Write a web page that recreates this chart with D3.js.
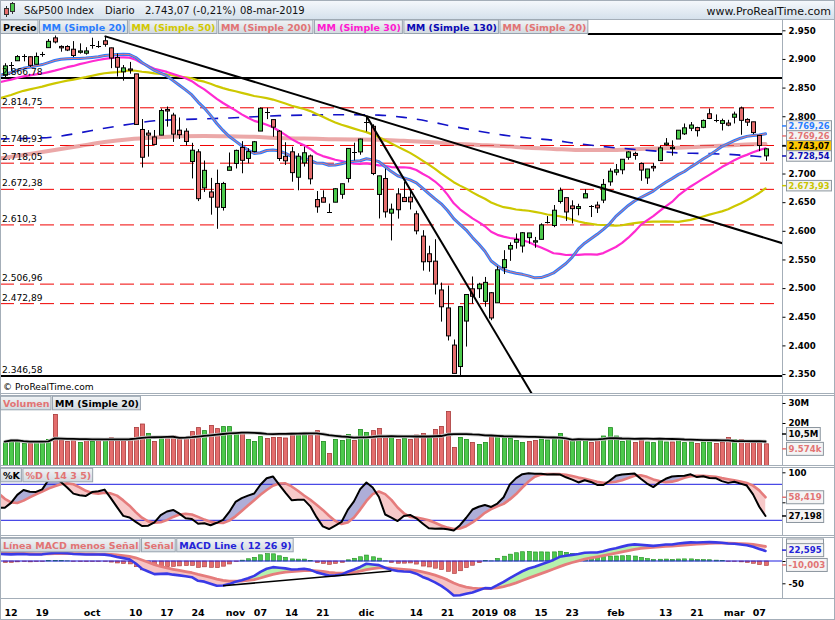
<!DOCTYPE html>
<html><head><meta charset="utf-8"><title>S&amp;P500 Index</title>
<script src="https://cdn.jsdelivr.net/npm/d3@7/dist/d3.min.js"></script>
<style>html,body{margin:0;padding:0;background:#fff;}svg{display:block;}</style>
</head><body>
<svg id="chart" width="835" height="620"></svg>
<script>
// ---------------- DATA ----------------
// closes before the visible window (Jun 1 - Sep 10, 2018), used by the moving averages / MACD
const priorClose = [2734.62,2746.87,2748.80,2772.35,2770.37,2779.03,2782.00,2786.85,2775.63,2782.49,2779.66,2773.75,2762.59,2767.32,2749.76,2754.88,2717.07,2723.06,2699.63,2716.31,2718.37,
2726.71,2713.22,2736.61,2759.82,2784.17,2793.84,2774.02,2798.29,2801.31,2798.43,2809.55,2815.62,2804.49,2801.83,2806.98,2820.40,2846.07,2837.44,2818.82,2802.60,2816.29,
2813.36,2827.22,2840.35,2850.40,2858.45,2857.70,2853.58,2833.28,2821.93,2839.96,2818.37,2840.69,2850.13,2857.05,2862.96,2861.82,2856.98,2874.69,2896.74,2897.52,2914.04,2901.13,2901.52,
2896.72,2888.60,2878.05,2871.68,2877.13];
// highs / lows of the last 20 prior sessions (Aug 13 - Sep 10, 2018), for the stochastic
const priorHigh = [2843.40,2843.11,2827.95,2850.49,2855.63,2859.76,2873.23,2867.54,2868.78,2876.16,2898.25,2903.77,2916.50,2912.46,2906.32,2900.18,2894.21,2892.05,2883.81,2886.93];
const priorLow  = [2819.88,2826.58,2802.49,2831.44,2833.73,2850.62,2861.32,2856.05,2854.03,2862.35,2884.69,2893.50,2898.40,2895.22,2891.73,2885.13,2876.92,2867.29,2864.12,2875.94];

// visible sessions: Sep 11, 2018 -> Mar 8, 2019
const open = [2871.57,2888.29,2896.85,2906.38,2903.83,2890.74,2906.60,2919.73,2936.76,2921.83,
2921.75,2916.98,2911.65,2910.03,2926.29,2923.80,2931.69,2919.35,2902.54,2877.53,
2882.51,2873.90,2776.87,2770.54,2763.83,2767.05,2811.67,2802.00,2775.66,2773.94,
2721.03,2737.87,2674.88,2667.86,2682.65,2640.68,2705.60,2717.58,2745.45,2726.37,
2738.40,2774.13,2806.38,2794.10,2773.93,2730.05,2737.90,2693.52,2718.54,2730.74,
2654.60,2657.74,2633.36,2649.97,2663.75,2691.45,2736.97,2737.76,2790.50,2782.43,
2663.51,2691.26,2630.86,2664.44,2658.23,2658.70,2629.68,2590.75,2559.90,2547.05,
2496.77,2465.38,2400.56,2363.12,2442.50,2498.77,2498.94,2476.96,2491.92,2474.33,
2535.61,2568.11,2580.00,2573.51,2588.11,2580.31,2585.10,2614.75,2609.28,2651.27,
2657.88,2643.48,2638.84,2657.44,2644.97,2644.89,2653.62,2685.49,2702.32,2706.49,
2728.34,2735.05,2717.53,2692.36,2712.40,2722.61,2750.30,2743.50,2760.24,2769.28,
2779.05,2780.24,2780.67,2804.35,2792.36,2787.50,2788.11,2798.22,2814.37,2794.41,
2790.27,2766.53,2730.79];
const high = [2892.52,2894.65,2906.76,2908.30,2904.65,2911.17,2912.36,2934.80,2940.91,2923.79,
2923.95,2931.15,2927.22,2920.53,2937.06,2931.42,2939.86,2919.78,2909.64,2889.45,
2894.83,2874.02,2795.14,2775.77,2775.99,2813.46,2816.94,2806.04,2797.77,2778.94,
2753.59,2742.59,2722.70,2692.38,2706.85,2685.43,2736.69,2741.67,2756.55,2744.27,
2756.82,2815.15,2814.75,2794.10,2775.99,2754.60,2746.80,2735.38,2746.75,2733.16,
2669.44,2670.73,2647.55,2674.35,2682.53,2744.00,2753.75,2760.88,2800.18,2785.93,
2696.15,2708.54,2647.51,2674.35,2685.44,2670.19,2635.07,2601.13,2573.99,2585.29,
2509.63,2504.41,2410.34,2467.76,2489.10,2520.27,2509.24,2519.49,2493.14,2538.07,
2566.16,2579.82,2595.32,2597.82,2596.27,2589.32,2613.08,2625.76,2645.06,2675.47,
2657.88,2653.19,2647.20,2672.38,2644.97,2650.93,2690.44,2708.95,2716.66,2724.99,
2738.98,2738.08,2719.32,2708.07,2718.05,2748.19,2761.85,2757.90,2775.66,2787.33,
2789.88,2781.58,2794.20,2813.49,2803.12,2795.76,2793.73,2808.02,2816.88,2796.44,
2790.27,2767.25,2744.13];
const low = [2866.78,2879.20,2896.39,2895.77,2886.16,2890.43,2903.82,2919.73,2927.11,2912.63,
2913.70,2903.28,2909.27,2907.50,2917.91,2919.37,2921.36,2883.92,2869.29,2862.08,
2874.27,2784.86,2710.51,2729.44,2749.03,2766.91,2781.81,2755.18,2760.27,2749.22,
2691.43,2651.89,2667.84,2628.16,2603.54,2635.34,2705.60,2708.85,2700.44,2717.94,
2737.08,2774.13,2794.99,2764.24,2722.00,2714.98,2685.75,2670.75,2712.16,2681.09,
2631.52,2649.82,2631.09,2649.97,2655.89,2684.38,2722.94,2732.76,2773.38,2697.18,
2621.53,2623.14,2583.23,2621.30,2650.26,2637.27,2593.84,2530.54,2528.71,2488.96,
2441.53,2408.55,2351.10,2346.58,2397.94,2472.89,2482.82,2467.47,2443.96,2474.33,
2524.56,2547.56,2568.89,2562.02,2577.40,2570.41,2585.10,2612.68,2606.36,2647.58,
2617.27,2612.86,2627.01,2657.33,2624.06,2631.05,2648.34,2678.65,2696.88,2698.75,
2724.03,2724.15,2687.26,2681.83,2703.79,2722.61,2748.63,2731.23,2760.24,2767.29,
2774.06,2764.55,2779.11,2794.99,2789.47,2775.13,2782.51,2787.38,2767.66,2782.97,
2768.69,2739.09,2722.27];
const close = [2887.89,2888.92,2904.18,2904.98,2888.80,2904.31,2907.95,2930.75,2929.67,2919.37,
2915.56,2905.97,2914.00,2913.98,2924.59,2923.43,2925.51,2901.61,2885.57,2884.43,
2880.34,2785.68,2728.37,2767.13,2750.79,2809.92,2809.21,2768.78,2767.78,2755.88,
2740.69,2656.10,2705.57,2658.69,2641.25,2682.63,2711.74,2740.37,2723.06,2738.31,
2755.45,2813.89,2806.83,2781.01,2726.22,2722.18,2701.58,2730.20,2736.27,2690.73,
2641.89,2649.93,2632.56,2673.45,2682.17,2743.79,2737.80,2760.17,2790.37,2700.06,
2695.95,2633.08,2637.72,2636.78,2651.07,2650.54,2599.95,2545.94,2546.16,2506.96,
2467.42,2416.62,2351.10,2467.70,2488.83,2485.74,2506.85,2510.03,2447.89,2531.94,
2549.69,2574.41,2584.96,2596.64,2596.26,2582.61,2610.30,2616.10,2635.96,2670.71,
2632.90,2638.70,2642.33,2664.76,2643.85,2640.00,2681.05,2704.10,2706.53,2724.87,
2737.70,2731.61,2706.05,2707.88,2709.80,2744.73,2753.03,2745.73,2775.60,2779.76,
2784.70,2774.88,2792.67,2796.11,2793.90,2792.38,2784.49,2803.69,2792.81,2789.65,
2771.45,2748.93,2743.07];
// volume, millions
const volume = [10.7,11.8,11.3,9.8,9.8,10.5,10.8,11.8,24.3,11.5,
10.8,11.2,10.3,12.2,10.8,11.5,11.3,12.7,11.7,11.7,
11.7,17.8,19.5,14.8,10.8,12.2,12.3,13.5,13.2,13.0,
15.7,17.7,16.2,18.8,17.2,18.2,18.2,15.3,15.2,11.8,
10.8,13.2,12.3,12.8,12.8,12.5,14.3,14.0,14.8,14.0,
16.2,10.8,4.8,11.8,11.3,14.3,11.3,16.8,15.3,16.2,
17.3,13.2,13.2,11.8,12.3,11.8,14.0,14.8,13.7,16.8,
18.3,25.8,7.8,12.8,11.8,10.3,9.3,10.3,13.7,13.2,
12.8,12.3,11.3,10.3,10.8,11.3,12.0,11.5,12.8,14.8,
12.0,11.8,12.3,11.8,10.3,11.5,13.5,17.7,13.5,10.8,
11.8,10.3,11.8,10.5,10.2,11.5,10.5,10.5,12.3,10.2,
10.5,9.8,10.5,10.5,9.8,10.5,12.8,11.8,11.8,10.8,
10.8,10.2,9.6];
// long moving averages (session index, value)
const ma130Idx = [-1,4,8,12,16,20,24,28,32,36,40,44,48,52,56,60,64,68,72,76,80,84,88,92,96,100,104,108,112,116,120,122];
const ma130Val = [2760.5,2761.5,2764,2771,2779,2786,2792,2794,2795.5,2797,2799,2801,2802,2802.5,2802.5,2802,2798,2791,2782,2774,2767,2762,2758,2752,2747,2743,2739.5,2736,2735,2733.5,2730.5,2728.5];
const ma200Idx = [-1,4,8,12,16,20,24,28,32,36,40,44,48,52,56,60,64,68,72,76,80,84,88,92,96,100,104,108,112,116,120,122];
const ma200Val = [2726,2734,2741,2748,2755,2760,2763,2765,2765.5,2765,2764,2762,2761,2760,2759.5,2759,2757,2755,2752,2750,2748,2745,2743,2741,2741,2742,2743.5,2745,2747,2749,2751,2751.5];

const tickIdx = [1,6,14,21,26,31,37,41,46,51,58,66,71,77,81,86,91,98,106,111,117,121];
const tickLabels = ["12","19","oct","10","17","24","nov","07","14","21","dic","14","21","2019","08","15","23","feb","13","21","mar","07"];

const dashedLevels = [2814.75,2748.93,2718.05,2672.38,2610.3,2506.96,2472.89];
const dashedLabels = ["2.814,75","2.748,93","2.718,05","2.672,38","2.610,3","2.506,96","2.472,89"];
const solidLevels = [2866.78,2346.58];
const solidLabels = ["2.866,78","2.346,58"];
const topLevel = [2943.5];          // horizontal line at the top (starts after the legend)
const topLevelFrom = [93.5];
const trendA = [[16,2939.86],[58,2800.18]];
const trendB = [[58,2800.18],[86,2288.6]];
const macdTrend = [[35,-55.5],[62,-22.5]];

const priceTicks = [2350,2400,2450,2500,2550,2600,2650,2700,2750,2800,2850,2900,2950];
const priceTicksHidden = [2750];   // covered by the value tags in the reference
const priceTagVals  = [2769.26,2769.26,2743.07,2728.54,2673.93];
const priceTagTexts = ["2.769,26","2.769,26","2.743,07","2.728,54","2.673,93"];
const volTagVals = [10.5, 9.574];
const volTagTexts = ["10,5M","9.574k"];
const stochTagVals = [58.419, 27.198];
const stochTagTexts = ["58,419","27,198"];
const macdSignalLast = 32.598;   // its tag box is hidden behind the MACD tag
const macdTagVals = [22.595, -10.003];
const macdTagTexts = ["22,595","-10,003"];

// ---------------- LAYOUT / STYLE ----------------
const svg = d3.select("#chart");
const F = '"DejaVu Sans", Verdana, sans-serif';
const loc = d3.formatLocale({decimal:",", thousands:".", grouping:[3], currency:["",""]});
const fmtInt = loc.format(",.0f");

const XL = 0.5, XR = 782.5, AXR = 834.5;
const P_TOP = 19.5, P_BOT = 393.5, V_TOP = 395.5, V_BOT = 465.5, S_TOP = 467.5, S_BOT = 535.5, M_TOP = 537.5, M_BOT = 598.5;
const GREEN = "#4cc94c", GREEN_D = "#1f8c1f", RED = "#e46d6d", RED_D = "#a83a3a";
const SALMON = "#e27474";

const x = d3.scaleLinear().domain([0,122]).range([4.8,765.5]);
const y = d3.scaleLinear().domain([2350,2950]).range([374.04,30.3]);
const yV = d3.scaleLinear().domain([0,30]).range([463,403]);
const yS = d3.scaleLinear().domain([0,100]).range([532.3,472.3]);
const yM = d3.scaleLinear().domain([-50,0]).range([583.3,561]);

const defs = svg.append("defs");
const hg = defs.append("linearGradient").attr("id","hdr").attr("x1",0).attr("y1",0).attr("x2",0).attr("y2",1);
hg.append("stop").attr("offset","0").attr("stop-color","#f6f9fc");
hg.append("stop").attr("offset","1").attr("stop-color","#d5e1ec");
const lg = defs.append("linearGradient").attr("id","lg").attr("x1",0).attr("y1",0).attr("x2",0).attr("y2",1);
lg.append("stop").attr("offset","0").attr("stop-color","#f1f4f6");
lg.append("stop").attr("offset","1").attr("stop-color","#d2d9df");

function clip(id, top, bot){
  defs.append("clipPath").attr("id",id).append("rect")
    .attr("x",XL+0.5).attr("y",top+0.5).attr("width",XR-XL-1).attr("height",bot-top-1);
}
clip("cpP",P_TOP,P_BOT); clip("cpV",V_TOP,V_BOT); clip("cpS",S_TOP,S_BOT); clip("cpM",M_TOP,M_BOT);

// background + frames
svg.append("rect").attr("x",0).attr("y",0).attr("width",835).attr("height",620).attr("fill","#fff");
svg.append("rect").attr("x",0).attr("y",0).attr("width",835).attr("height",19).attr("fill","url(#hdr)");
svg.append("line").attr("x1",0).attr("x2",835).attr("y1",19.5).attr("y2",19.5).attr("stroke","#9ca8b4");
[[P_TOP,P_BOT],[V_TOP,V_BOT],[S_TOP,S_BOT],[M_TOP,M_BOT]].forEach(([t,b])=>{
  svg.append("rect").attr("x",XL).attr("y",t).attr("width",XR-XL).attr("height",b-t).attr("fill","#fff").attr("stroke","#a4aeb8");
  svg.append("rect").attr("x",XR).attr("y",t).attr("width",AXR-XR).attr("height",b-t).attr("fill","#fff").attr("stroke","#a4aeb8");
});
svg.append("rect").attr("x",0.5).attr("y",0.5).attr("width",834).attr("height",619).attr("fill","none").attr("stroke","#a4aeb8");

// header
const icon = svg.append("g");
icon.append("line").attr("x1",6.5).attr("x2",6.5).attr("y1",6).attr("y2",17).attr("stroke","#333");
icon.append("rect").attr("x",4.5).attr("y",8.5).attr("width",4).attr("height",6).attr("fill",RED).attr("stroke","#333");
icon.append("line").attr("x1",12.5).attr("x2",12.5).attr("y1",2).attr("y2",14).attr("stroke","#333");
icon.append("rect").attr("x",10.5).attr("y",3.5).attr("width",4).attr("height",8).attr("fill",GREEN).attr("stroke","#333");
const hdr = [["S&P500 Index",24],["Diario",105],["2.743,07 (-0,21%)",145],["08-mar-2019",240]];
hdr.forEach(([t,px])=>svg.append("text").attr("x",px).attr("y",14).attr("font-family",F).attr("font-size",10).attr("fill","#111").text(t));
svg.append("text").attr("x",831).attr("y",15).attr("text-anchor","end").attr("font-family",F).attr("font-size",11).attr("fill","#111").text("www.ProRealTime.com");

// ---------------- INDICATORS ----------------
const P = priorClose.length;
const allC = priorClose.concat(close);
const win = d3.range(-1,123);
const sma = n => win.map(i=>({i, v:d3.mean(allC.slice(P+i-n+1, P+i+1))}));
const sma20 = sma(20), sma30 = sma(30), sma50 = sma(50);
const ma130 = ma130Idx.map((i,k)=>({i, v:ma130Val[k]}));
const ma200 = ma200Idx.map((i,k)=>({i, v:ma200Val[k]}));

function ema(arr,n){ const k=2/(n+1); let e; return arr.map((v,i)=> e = (i===0? v : v*k + e*(1-k))); }
const e12 = ema(allC,12), e26 = ema(allC,26);
const macdAll = e12.map((v,i)=>v-e26[i]);
const sigAll = ema(macdAll,9);
const macd = win.map(i=>({i, a:macdAll[P+i], b:sigAll[P+i]}));

const OFF = priorHigh.length;
const sH = priorHigh.concat(high), sL = priorLow.concat(low), sC = priorClose.slice(-OFF).concat(close);
const raw = sC.map((c,j)=>{ if(j<13) return NaN; const hh=d3.max(sH.slice(j-13,j+1)), ll=d3.min(sL.slice(j-13,j+1)); return 100*(c-ll)/(hh-ll); });
const kAll = raw.map((_,j)=> j<15? NaN : d3.mean(raw.slice(j-2,j+1)));
const dAll = kAll.map((_,j)=> j<19? NaN : d3.mean(kAll.slice(j-4,j+1)));
const stoch = win.map(i=>({i, a:kAll[OFF+i], b:dAll[OFF+i]}));

const volMA = volume.map((v,i)=>({i, v:d3.mean(volume.slice(Math.max(0,i-19), i+1))}));

// ---------------- PRICE PANEL ----------------
const gP = svg.append("g").attr("clip-path","url(#cpP)");
dashedLevels.forEach(v=>gP.append("line").attr("x1",0).attr("x2",777).attr("y1",y(v)).attr("y2",y(v))
  .attr("stroke","#f00000").attr("stroke-width",1).attr("stroke-dasharray","14,6"));
solidLevels.forEach(v=>gP.append("line").attr("x1",0).attr("x2",782).attr("y1",y(v)).attr("y2",y(v))
  .attr("stroke","#000").attr("stroke-width",2));
topLevel.forEach((v,k)=>gP.append("line").attr("x1",x(topLevelFrom[k])).attr("x2",782).attr("y1",y(v)).attr("y2",y(v))
  .attr("stroke","#000").attr("stroke-width",2));

const ln = (ys) => d3.line().x(d=>x(d.i)).y(d=>ys(d.v));
function drawLine(g, data, gen, color, w, extra){
  const p = g.append("path").attr("d", gen(data)).attr("fill","none").attr("stroke",color)
    .attr("stroke-width",w).attr("stroke-linejoin","round").attr("stroke-linecap","round");
  if (extra) extra(p);
  return p;
}
const smooth = d3.line().x(d=>x(d.i)).y(d=>y(d.v)).curve(d3.curveMonotoneX);
drawLine(gP, ma200, smooth, "rgb(222,110,110)", 4, p=>p.attr("opacity",0.6));
drawLine(gP, ma130, smooth, "#1212c8", 1.6, p=>p.attr("stroke-dasharray","11,10").attr("stroke-linecap","butt"));
drawLine(gP, sma50, ln(y), "#cdc800", 2.2);
drawLine(gP, sma30, ln(y), "#ff2ad0", 2.2);
drawLine(gP, sma20, ln(y), "#2a7dff", 3);
drawLine(gP, sma20, ln(y), "#e67a7a", 1);

// candles
close.forEach((c,i)=>{
  const o = open[i], cx = Math.round(x(i));
  gP.append("line").attr("x1",cx+0.5).attr("x2",cx+0.5).attr("y1",y(high[i])).attr("y2",y(low[i])).attr("stroke","#000").attr("stroke-width",1);
  const top = y(Math.max(o,c)), bot = y(Math.min(o,c));
  if (bot-top < 1.2) {
    gP.append("line").attr("x1",cx-2).attr("x2",cx+3).attr("y1",Math.round(y(c))+0.5).attr("y2",Math.round(y(c))+0.5).attr("stroke","#000");
  } else {
    gP.append("rect").attr("x",cx-1.5).attr("y",top).attr("width",4).attr("height",bot-top)
      .attr("fill", c>o? GREEN : RED).attr("stroke","#000").attr("stroke-width",1);
  }
});

// trend lines
function extendTo(p0,p1,iEnd){ const s=(p1[1]-p0[1])/(p1[0]-p0[0]); return [p0,[iEnd, p0[1]+s*(iEnd-p0[0])]]; }
const tl = d3.line().x(d=>x(d[0])).y(d=>y(d[1]));
gP.append("path").attr("d", tl(extendTo(trendA[0],trendA[1],127))).attr("stroke","#000").attr("stroke-width",2).attr("fill","none");
gP.append("path").attr("d", tl(trendB)).attr("stroke","#000").attr("stroke-width",2).attr("fill","none");

// level labels
dashedLevels.concat(solidLevels).forEach((v,k)=>{
  const t = dashedLabels.concat(solidLabels)[k];
  gP.append("text").attr("x",2).attr("y",y(v)-3).attr("font-family",F).attr("font-size",9.1).attr("fill","#000").text(t);
});
svg.append("text").attr("x",3).attr("y",389.5).attr("font-family",F).attr("font-size",9.1).attr("fill","#000").text("© ProRealTime.com");

// legends
function legend(items, top){
  let cx = XL;
  items.forEach(([text,color])=>{
    const g = svg.append("g");
    const r = g.append("rect");
    const t = g.append("text").attr("x",cx+2.5).attr("y",top+10.8).attr("font-family",F).attr("font-size",9.5)
      .attr("font-weight","bold").attr("fill",color).text(text);
    const w = t.node().getComputedTextLength()+4;
    r.attr("x",cx).attr("y",top).attr("width",w).attr("height",13.5).attr("fill","url(#lg)").attr("stroke","#98a3ae");
    cx += w+1.5;
  });
}
legend([["Precio","#000"],["MM (Simple 20)","#2a7dff"],["MM (Simple 50)","#d2c800"],["MM (Simple 200)",SALMON],
        ["MM (Simple 30)","#ff1ad0"],["MM (Simple 130)","#0a0ab4"],["MM (Simple 20)",SALMON]], P_TOP+0.5);

// right axis (price)
const axisFont = g => g.selectAll("text").attr("font-family",F).attr("font-size",8.6).attr("font-weight","bold").attr("fill","#000");
svg.append("g").attr("transform",`translate(${XR},0)`)
  .call(d3.axisRight(y).tickValues(priceTicks).tickFormat(v=> priceTicksHidden.includes(v)? "" : fmtInt(v)).tickSize(3).tickPadding(3))
  .call(g=>g.select(".domain").remove()).call(axisFont);

function tag(yc, text, color, bg, h, fs){
  h = h || 13; fs = fs || 8.6;
  const g = svg.append("g");
  const r = g.append("rect");
  const t = g.append("text").attr("x",788.5).attr("y",yc+fs*0.37).attr("font-family",F).attr("font-size",fs)
    .attr("font-weight","bold").attr("fill",color).text(text);
  const w = t.node().getComputedTextLength();
  r.attr("x",786.5).attr("y",yc-h/2).attr("width",w+4).attr("height",h).attr("fill",bg||"#f4f4f4").attr("stroke","#8c969f");
  svg.append("line").attr("x1",782).attr("x2",786).attr("y1",yc).attr("y2",yc).attr("stroke",color).attr("stroke-width",1.5);
}
// [colour, background, offset from the value's position]
const priceTagStyle = [["#2a7dff",null,-7.9],[SALMON,null,2.1],["#000","#ffc800",-2.9],["#0a0ab4",null,-1.2],["#c8c400",null,-2.8]];
priceTagVals.forEach((v,k)=>{ const [c,bg,dy]=priceTagStyle[k]; tag(y(v)+dy, priceTagTexts[k], c, bg, 10.5, 8.3); });

// ---------------- VOLUME PANEL ----------------
const gV = svg.append("g").attr("clip-path","url(#cpV)");
volume.forEach((v,i)=>{
  const prev = i===0? priorClose[P-1] : close[i-1];
  const up = close[i] >= prev;
  const cx = Math.round(x(i));
  gV.append("rect").attr("x",cx-1.5).attr("y",yV(v)).attr("width",4).attr("height",V_BOT-yV(v))
    .attr("fill", up? GREEN : RED).attr("stroke", up? GREEN_D : RED_D).attr("stroke-width",0.8);
});
drawLine(gV, volMA, ln(yV), "#c8c8c8", 3.5);
drawLine(gV, volMA, ln(yV), "#000", 1.8);
legend([["Volumen",SALMON],["MM (Simple 20)","#000"]], V_TOP+0.8);
svg.append("g").attr("transform",`translate(${XR},0)`)
  .call(d3.axisRight(yV).tickValues([20,30]).tickFormat(d=>d+"M").tickSize(3).tickPadding(3))
  .call(g=>g.select(".domain").remove()).call(axisFont);
tag(yV(volTagVals[0])-8, volTagTexts[0], "#000");
tag(yV(volTagVals[1])+5, volTagTexts[1], SALMON);

// ---------------- STOCHASTIC PANEL ----------------
function pairFill(g, data, ys, top, bot, colUp, colDn, id){
  const band = d3.area().x(d=>x(d.i)).y0(d=>ys(d.a)).y1(d=>ys(d.b));
  defs.append("clipPath").attr("id",id+"u").append("path").attr("d", d3.area().x(d=>x(d.i)).y0(top).y1(d=>ys(d.b))(data));
  defs.append("clipPath").attr("id",id+"d").append("path").attr("d", d3.area().x(d=>x(d.i)).y0(bot).y1(d=>ys(d.b))(data));
  g.append("g").attr("clip-path",`url(#${id}u)`).append("path").attr("d",band(data)).attr("fill",colUp);
  g.append("g").attr("clip-path",`url(#${id}d)`).append("path").attr("d",band(data)).attr("fill",colDn);
}
const gS = svg.append("g").attr("clip-path","url(#cpS)");
pairFill(gS, stoch, yS, S_TOP, S_BOT, "#aeaed8", "#f7c9c9", "fs");
[80,20].forEach(v=>gS.append("line").attr("x1",0).attr("x2",782).attr("y1",yS(v)).attr("y2",yS(v)).attr("stroke","#1c1ce0").attr("stroke-width",1));
const lineB = ys => d3.line().x(d=>x(d.i)).y(d=>ys(d.b));
const lineA = ys => d3.line().x(d=>x(d.i)).y(d=>ys(d.a));
drawLine(gS, stoch, lineB(yS), "#e57c7c", 2.6);
drawLine(gS, stoch, lineA(yS), "#000", 2);
legend([["%K","#000"],["%D ( 14 3 5)",SALMON]], S_TOP+0.8);
svg.append("g").attr("transform",`translate(${XR},0)`)
  .call(d3.axisRight(yS).tickValues([50,100]).tickFormat(d=> d===100? "100" : "").tickSize(3).tickPadding(3))
  .call(g=>g.select(".domain").remove()).call(axisFont);
tag(yS(stochTagVals[0]), stochTagTexts[0], SALMON);
tag(yS(stochTagVals[1]), stochTagTexts[1], "#000");

// ---------------- MACD PANEL ----------------
const gM = svg.append("g").attr("clip-path","url(#cpM)");
macd.forEach(d=>{
  if (d.i < 0) return;
  const h = d.a - d.b, cx = Math.round(x(d.i));
  const y0 = yM(0), y1 = yM(h);
  gM.append("rect").attr("x",cx-1.5).attr("y",Math.min(y0,y1)).attr("width",4).attr("height",Math.abs(y1-y0))
    .attr("fill", h>=0? GREEN : RED).attr("stroke", h>=0? GREEN_D : RED_D).attr("stroke-width",0.6);
});
gM.append("line").attr("x1",0).attr("x2",782).attr("y1",yM(0)).attr("y2",yM(0)).attr("stroke","#1c1ce0").attr("stroke-width",1);
pairFill(gM, macd, yM, M_TOP, M_BOT, "#b6f1ad", "#f7c3c3", "fm");
drawLine(gM, macd, lineB(yM), "#e57c7c", 2.8);
drawLine(gM, macd, lineA(yM), "#3a3ae6", 2.6);
gM.append("path").attr("d", d3.line().x(d=>x(d[0])).y(d=>yM(d[1]))(macdTrend)).attr("stroke","#000").attr("stroke-width",1.6).attr("fill","none");
legend([["Línea MACD menos Señal",SALMON],["Señal",SALMON],["MACD Line ( 12 26 9)","#2424d8"]], M_TOP+0.8);
svg.append("g").attr("transform",`translate(${XR},0)`)
  .call(d3.axisRight(yM).tickValues([-50,0]).tickFormat(d=> d===-50? "-50" : "").tickSize(3).tickPadding(3))
  .call(g=>g.select(".domain").remove()).call(axisFont);
// hidden signal tag box (only its outline peeks out above the MACD tag)
svg.append("rect").attr("x",786.5).attr("y",yM(macdSignalLast)-7.5).attr("width",37).attr("height",13).attr("fill","#f4f4f4").attr("stroke","#8c969f");
tag(yM(macdTagVals[0])-0.8, macdTagTexts[0], "#2424d8");
tag(yM(macdTagVals[1])-0.5, macdTagTexts[1], SALMON);

// ---------------- X AXIS ----------------
tickIdx.forEach((i,k)=>{
  svg.append("text").attr("x",x(i)).attr("y",615.5).attr("text-anchor","middle").attr("font-family",F)
    .attr("font-size",9.5).attr("font-weight","bold").attr("fill","#000").text(tickLabels[k]);
});
</script>
</body></html>
